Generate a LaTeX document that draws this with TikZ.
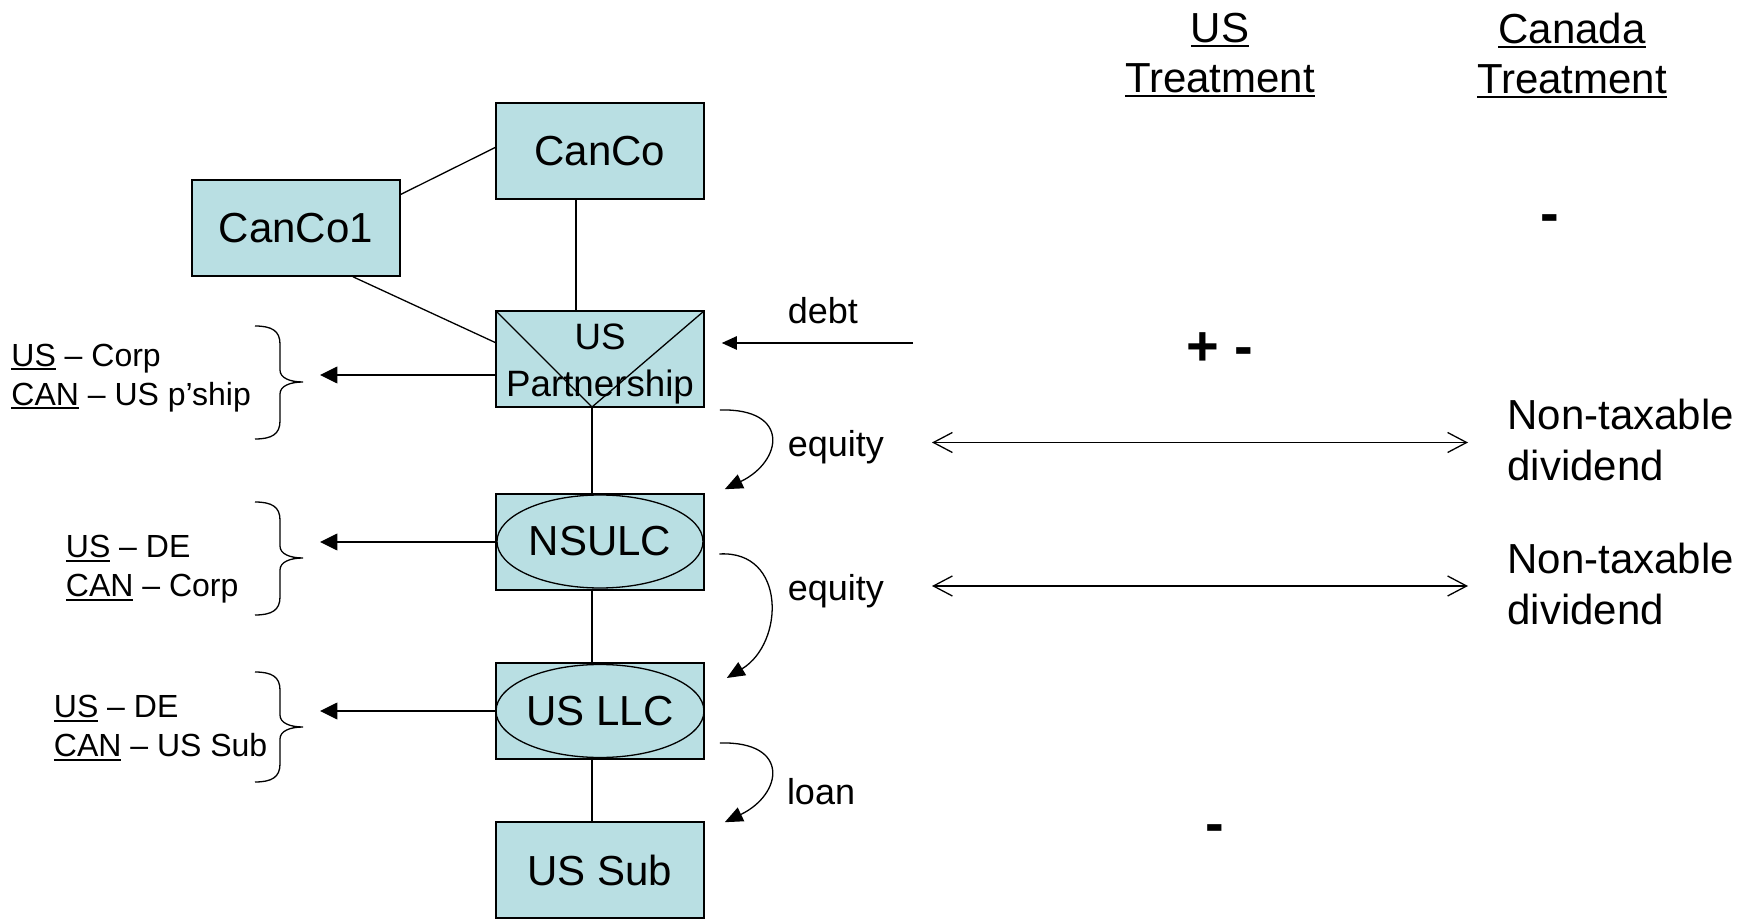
\documentclass[tikz,border=0pt]{standalone}
\usepackage{fontspec}
\setmainfont{Liberation Sans}
\usetikzlibrary{arrows.meta,shapes.geometric}
\definecolor{boxfill}{RGB}{185,223,227}
% underline as a rule set just below the baseline
\newcommand\undl[1]{\setbox0\hbox{#1}\rlap{\rule[-0.12em]{\wd0}{0.05em}}\box0\relax}
\newcommand\fsz[2]{\fontsize{#1}{#2}\selectfont}
% right-hand curly brace: top y, tip y, bottom y
\newcommand\sidebrace[3]{%
  \draw[link] (255,#1) .. controls (272,#1) and (280,#1+5) .. (280,#1+18)
    -- (280,#2-12) .. controls (280,#2-4) and (290,#2) .. (303,#2)
    .. controls (290,#2) and (280,#2+4) .. (280,#2+12)
    -- (280,#3-18) .. controls (280,#3-5) and (272,#3) .. (255,#3);}

\begin{document}
\begin{tikzpicture}[x=0.5pt,y=-0.5pt,
  link/.style={line width=0.65pt},
  entity/.style={draw,line width=0.8pt,fill=boxfill,rectangle,inner sep=0pt,
    minimum width=104pt,minimum height=48pt,font=\fsz{21pt}{25pt}},
  oval/.style={draw,line width=0.65pt,ellipse,inner sep=0pt,
    minimum width=103pt,minimum height=46.5pt,font=\fsz{21pt}{25pt}},
  note/.style={inner sep=0pt,align=left,anchor=north west,font=\fsz{16pt}{19.5pt}},
  flowlabel/.style={inner sep=0pt,anchor=base west,font=\fsz{18pt}{21.6pt}},
  result/.style={inner sep=0pt,align=left,anchor=north west,font=\fsz{21pt}{25.15pt}},
  heading/.style={inner sep=0pt,align=center,anchor=north,font=\fsz{21pt}{25pt}},
  sign/.style={inner sep=0pt,anchor=base,font=\bfseries\fsz{28pt}{30pt}},
  pointer/.style={link,-{Triangle[length=8.7pt,width=8.4pt]}},
  debtarrow/.style={link,-{Triangle[length=7.5pt,width=6.7pt]}},
  flow/.style={link,-{Triangle[length=9pt,width=7.5pt]}},
  both/.style={line width=0.8pt,{Straight Barb[length=9.5pt,width=10pt,line width=0.65pt]}-{Straight Barb[length=9.5pt,width=10pt,line width=0.65pt]}},
]
\path[use as bounding box] (0,0) rectangle (1752,919);

% entities
\node[entity] (canco) at (600,151) {CanCo};
\node[entity] (canco1) at (296,228) {CanCo1};
\node[entity,
  path picture={\draw[link] (path picture bounding box.north west)
     -- ([xshift=-4pt]path picture bounding box.south)
     -- (path picture bounding box.north east);}] (usp) at (600,359) {};
\node[inner sep=0pt,align=center,font=\fsz{18.35pt}{23.5pt}] (usplabel) at (600,363.5) {US\\Partnership};
\node[entity] (nsulcbox) at (600,542) {};
\node[oval] (nsulc) at (600,541.5) {NSULC};
\node[entity] (usllcbox) at (600,711) {};
\node[oval] (usllc) at (600,711) {US LLC};
\node[entity] (ussub) at (600,870) {US Sub};

% ownership lines
\draw[link] ([yshift=16.8pt]canco1.east) -- ([yshift=1.75pt]canco.west);
\draw[link] ([xshift=28.5pt]canco1.south) -- ([yshift=8.25pt]usp.west);
\draw[link] ([xshift=-12pt]canco.south) -- ([xshift=-12pt]usp.north);
\draw[link] ([xshift=-4pt]usp.south) -- ([xshift=-4pt]nsulcbox.north);
\draw[link] ([xshift=-4pt]nsulcbox.south) -- ([xshift=-4pt]usllcbox.north);
\draw[link] ([xshift=-4pt]usllcbox.south) -- ([xshift=-4pt]ussub.north);

% classification notes with braces
\sidebrace{326}{382}{439}
\sidebrace{502}{558}{615}
\sidebrace{672}{727}{782}
\coordinate (b1) at (320,375);
\coordinate (b2) at (320,542);
\coordinate (b3) at (320,711);
\draw[pointer] ([yshift=-8pt]usp.west) -- (b1);
\draw[pointer] (nsulcbox.west) -- (b2);
\draw[pointer] (usllcbox.west) -- (b3);
\node[note] (tax1) at (11,343.4) {\undl{US} -- Corp\\\undl{CAN} -- US p'ship};
\node[note] (tax2) at (65.5,535) {\undl{US} -- DE\\\undl{CAN} -- Corp};
\node[note] (tax3) at (53.5,695) {\undl{US} -- DE\\\undl{CAN} -- US Sub};

% funding flows
\coordinate (debtsrc) at (913,343);
\draw[debtarrow] (debtsrc) -- ([xshift=8.5pt,yshift=8pt]usp.east);
\draw[flow] ([shift={(15,51)}]usp.east) .. controls +(71,-2) and +(58,-28) .. ([shift={(20,-4)}]nsulcbox.north east);
\draw[flow] ([shift={(14.5,12)}]nsulcbox.east) .. controls +(67,-4) and +(58,-35) .. ([shift={(22,-33)}]usllcbox.east);
\draw[flow] ([shift={(15,32)}]usllcbox.east) .. controls +(71,-2) and +(58,-28) .. ([shift={(20,1)}]ussub.north east);
\node[flowlabel] (debt) at (787.5,323.6) {debt};
\node[flowlabel] (eq1) at (787.5,456.3) {equity};
\node[flowlabel] (eq2) at (787.5,600.5) {equity};
\node[flowlabel] (loan) at (786.6,804) {loan};

% treatment columns
\node[heading] (ush) at (1220,12.4) {\undl{US}\\\undl{Treatment}};
\node[heading] (cah) at (1572,12.4) {\undl{Canada}\\\undl{Treatment}};
\node[sign] (cadebt) at (1550,233) {-};
\node[sign,anchor=base west] (usdebt) at (1186,366) {+ -};
\node[sign] (usloan) at (1214.5,842) {-};
\node[result] (nt1) at (1507,399) {Non-taxable\\dividend};
\node[result] (nt2) at (1507,543) {Non-taxable\\dividend};
\coordinate (e1l) at (932,442.5);
\coordinate (e1r) at (1468,442.5);
\coordinate (e2l) at (932,586);
\coordinate (e2r) at (1468,586);
\draw[both] (e1l) -- (e1r);
\draw[both] (e2l) -- (e2r);
\end{tikzpicture}
\end{document}
